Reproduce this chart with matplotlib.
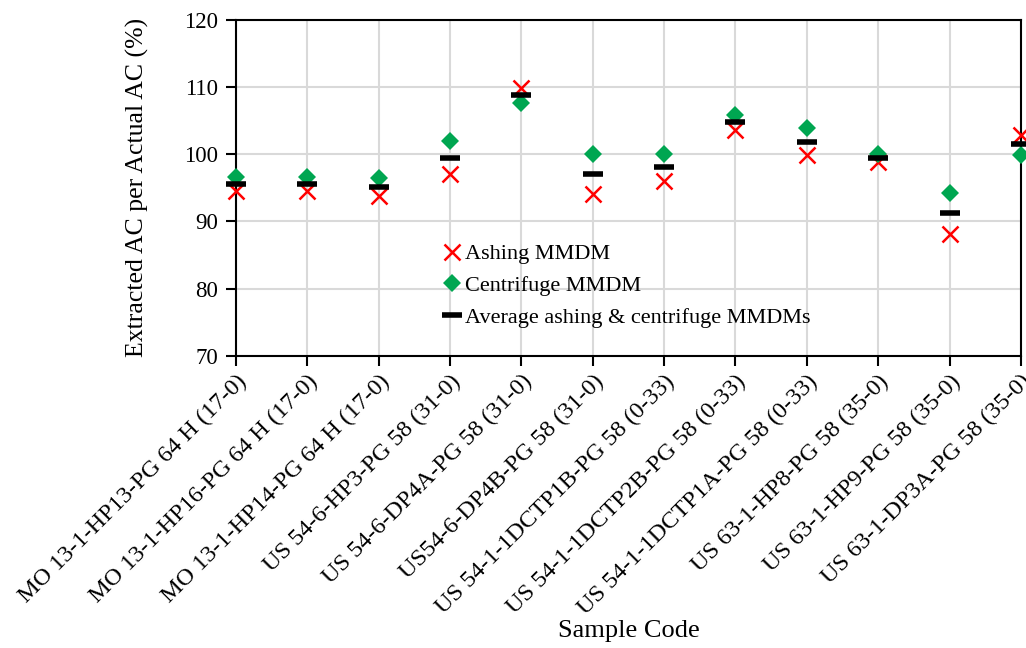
import matplotlib
matplotlib.use("Agg")
import matplotlib.pyplot as plt
import numpy as np

samples = [
    "MO 13-1-HP13-PG 64 H (17-0)",
    "MO 13-1-HP16-PG 64 H (17-0)",
    "MO 13-1-HP14-PG 64 H (17-0)",
    "US 54-6-HP3-PG 58 (31-0)",
    "US 54-6-DP4A-PG 58 (31-0)",
    "US54-6-DP4B-PG 58 (31-0)",
    "US 54-1-1DCTP1B-PG 58 (0-33)",
    "US 54-1-1DCTP2B-PG 58 (0-33)",
    "US 54-1-1DCTP1A-PG 58 (0-33)",
    "US 63-1-HP8-PG 58 (35-0)",
    "US 63-1-HP9-PG 58 (35-0)",
    "US 63-1-DP3A-PG 58 (35-0)",
]
ashing = [94.6, 94.6, 93.8, 97.0, 109.9, 94.1, 96.1, 103.7, 99.9, 98.9, 88.2, 102.9]
centrifuge = [96.7, 96.7, 96.5, 102.0, 107.7, 100.0, 100.0, 105.9, 103.9, 100.1, 94.2, 99.9]
average = [95.6, 95.6, 95.2, 99.5, 108.9, 97.1, 98.1, 104.8, 101.9, 99.5, 91.2, 101.5]

plt.rcParams["font.family"] = ["Liberation Serif", "DejaVu Serif"]

fig = plt.figure(figsize=(10.26, 6.48), dpi=100)
ax = fig.add_axes([0.230, 0.451, 0.765, 0.518])

x = np.arange(len(samples))
ax.plot(x, ashing, linestyle="none", marker="x", color="#ff0000",
        markersize=11, markeredgewidth=1.8, clip_on=False, zorder=3,
        label="Ashing MMDM")
ax.plot(x, centrifuge, linestyle="none", marker="D", color="#00a651",
        markersize=9, markeredgewidth=0, clip_on=False, zorder=4,
        label="Centrifuge MMDM")
ax.plot(x, average, linestyle="none", marker="_", color="black",
        markersize=15, markeredgewidth=4, clip_on=False, zorder=5,
        label="Average ashing & centrifuge MMDMs")

ax.set_xlim(0, len(samples) - 1)
ax.set_ylim(70, 120)
ax.set_yticks(np.arange(70, 121, 10))
ax.set_xticks(x)
ax.set_xticklabels(samples, rotation=45, ha="right", rotation_mode="anchor",
                   fontsize=17.5)
ax.tick_params(axis="y", labelsize=16.5, direction="out", length=7, width=1.5,
               pad=6)
ax.tick_params(axis="x", direction="out", length=7, width=1.5, pad=4)

ax.grid(True, color="#d9d9d9", linewidth=1.5, zorder=0)
ax.set_axisbelow(True)
for side in ["left", "bottom", "right", "top"]:
    ax.spines[side].set_linewidth(1.5)
    ax.spines[side].set_color("black")

ax.set_ylabel("Extracted AC per Actual AC (%)", fontsize=18.5, labelpad=25)
ax.set_xlabel("Sample Code", fontsize=19, labelpad=1)

ax.legend(loc="upper left", bbox_to_anchor=(0.255, 0.36), frameon=False,
          fontsize=16, handlelength=0.6, handletextpad=0.3,
          labelspacing=0.5, borderaxespad=0)

fig.savefig("out.png", dpi=100)
